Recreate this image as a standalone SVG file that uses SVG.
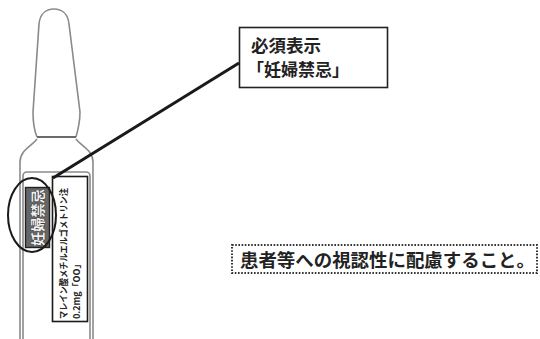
<svg xmlns="http://www.w3.org/2000/svg" width="540" height="339" viewBox="0 0 540 339">
  <style>
    .jp { font-family: "Noto Sans CJK JP", "Noto Sans", sans-serif; font-weight: bold; fill: #222; }
    .glass { fill: none; stroke: #8a8a8a; stroke-width: 1.6; }
    .ink { fill: none; stroke: #1a1a1a; }
  </style>
  <rect width="540" height="339" fill="#ffffff"/>

  <!-- ampoule -->
  <g id="ampoule">
    <!-- tip and neck -->
    <path class="glass" d="M37,137 C34,130 33,122 33,112 L39,24 C40,14 46,9 54,9 C62,9 68,14 69,24 L80,112 C80,122 78,130 76,137"/>
    <path d="M37,137 L76,137" stroke="#6a6a6a" stroke-width="2.2" fill="none"/>
    <!-- shoulder and body -->
    <path class="glass" d="M37,139 C32,146 20,150 20,162 L20,339 M76,139 C81,146 93,150 93,162 L93,339"/>
    <!-- label sleeve -->
    <rect class="glass" x="23" y="172" width="67" height="175" rx="4" stroke="#9a9a9a" stroke-width="1.3"/>
    <!-- drug name label -->
    <rect x="52.5" y="176.5" width="35" height="145" fill="#fff" stroke="#1a1a1a" stroke-width="1.6"/>
    <text class="jp" font-size="9" transform="translate(67,319) rotate(-90)" textLength="131" lengthAdjust="spacingAndGlyphs">マレイン酸メチルエルゴメトリン注</text>
    <text class="jp" font-size="9" transform="translate(80,319) rotate(-90)">0.2mg「OO」</text>
    <!-- warning badge -->
    <rect x="25.5" y="187.5" width="24" height="60" fill="#666" stroke="#222" stroke-width="1.4"/>
    <text class="jp" font-size="14" style="fill:#f0f0f0" stroke="#222" stroke-width="0.6" paint-order="stroke" transform="translate(42.5,246) rotate(-90)" textLength="57" lengthAdjust="spacingAndGlyphs">妊婦禁忌</text>
    <!-- highlight ring -->
    <ellipse cx="32" cy="215" rx="24" ry="37" class="ink" stroke-width="2"/>
  </g>

  <!-- callout box -->
  <g id="callout">
    <rect x="239.5" y="27.5" width="148" height="60" fill="#fff" stroke="#222" stroke-width="1.6"/>
    <text class="jp" x="251" y="52" font-size="17.5">必須表示</text>
    <text class="jp" x="247" y="76" font-size="17">「妊婦禁忌」</text>
  </g>

  <!-- note box -->
  <g id="note">
    <rect x="232" y="245" width="305" height="28" fill="#fff" stroke="#333" stroke-width="2" stroke-dasharray="1.6 1.6"/>
    <text class="jp" x="240" y="267" font-size="18" textLength="295" lengthAdjust="spacingAndGlyphs">患者等への視認性に配慮すること。</text>
  </g>

  <!-- connectors -->
  <g id="connectors">
    <line x1="53" y1="178" x2="239" y2="63" class="ink" stroke-width="3"/>
  </g>
</svg>
